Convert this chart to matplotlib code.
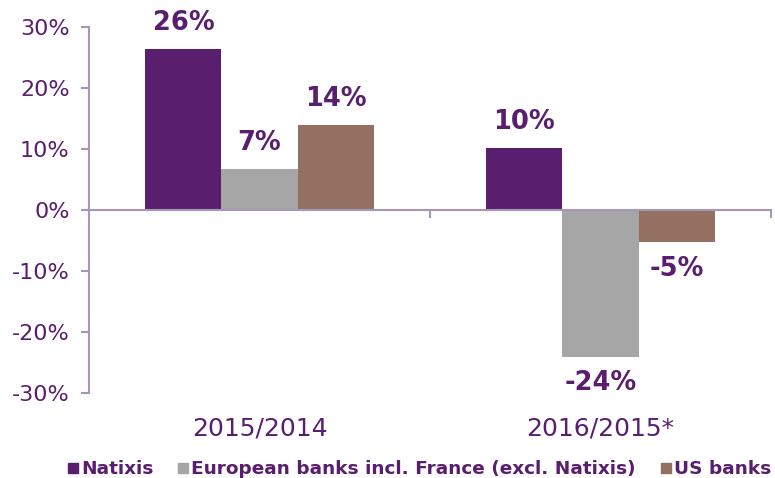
import matplotlib.pyplot as plt
from matplotlib.lines import Line2D

# values (percent change)
periods = ['2015/2014', '2016/2015*']
series = ['Natixis', 'European banks incl. France (excl. Natixis)', 'US banks']
natixis = [26.4, 10.1]
european = [6.7, -24.1]
us_banks = [13.9, -5.3]
labels = [['26%', '10%'], ['7%', '-24%'], ['14%', '-5%']]
colors = ['#5a1e6e', '#a6a6a6', '#937061']

txt = '#5a1e6e'
axcol = '#a597b5'

fig = plt.figure(figsize=(7.75, 4.78), dpi=100)
ax = fig.add_axes([89/775, 1-393/478, 682/775, 366/478])

w = 0.223
offs = [-w, 0, w]
for k, vals in enumerate([natixis, european, us_banks]):
    xs = [i + offs[k] for i in range(len(periods))]
    ax.bar(xs, vals, width=w, color=colors[k], edgecolor='none', zorder=2)
    for x, v, lab in zip(xs, vals, labels[k]):
        dy = 19 if v >= 0 else -19
        ax.annotate(lab, (x, v), xytext=(0, dy), textcoords='offset points',
                    ha='center', va='center', fontsize=18.5, fontweight='bold', color=txt)

ax.set_xlim(-0.5, 1.5)
ax.set_ylim(-30, 30)
ax.set_yticks(range(-30, 31, 10))
ax.set_yticklabels(['%d%%' % t for t in range(-30, 31, 10)])
ax.tick_params(axis='y', direction='out', length=6, width=1.5, color=axcol,
               labelcolor=txt, labelsize=16, pad=8)

for s in ['top', 'right']:
    ax.spines[s].set_visible(False)
ax.spines['left'].set_color(axcol)
ax.spines['left'].set_linewidth(1.5)
ax.spines['bottom'].set_position(('data', 0))
ax.spines['bottom'].set_color(axcol)
ax.spines['bottom'].set_linewidth(1.5)
ax.spines['bottom'].set_zorder(3)
ax.set_xticks([0.5, 1.5])
ax.set_xticklabels([])
ax.tick_params(axis='x', direction='out', length=6, width=1.5, color=axcol)

for i, p in enumerate(periods):
    ax.text(i, -0.096, p, transform=ax.get_xaxis_transform(), ha='center', va='center',
            fontsize=18, color=txt)

handles = [Line2D([], [], marker='s', linestyle='none', markersize=7, color=c) for c in colors]
fig.legend(handles, series, loc='center', bbox_to_anchor=(0.541, 1-469/478), ncol=3,
           frameon=False, handlelength=0.6, handletextpad=0.15, columnspacing=1.3,
           prop={'family': 'DejaVu Sans', 'weight': 'bold', 'size': 13.3},
           labelcolor=txt)

fig.savefig('out.png', dpi=100)
